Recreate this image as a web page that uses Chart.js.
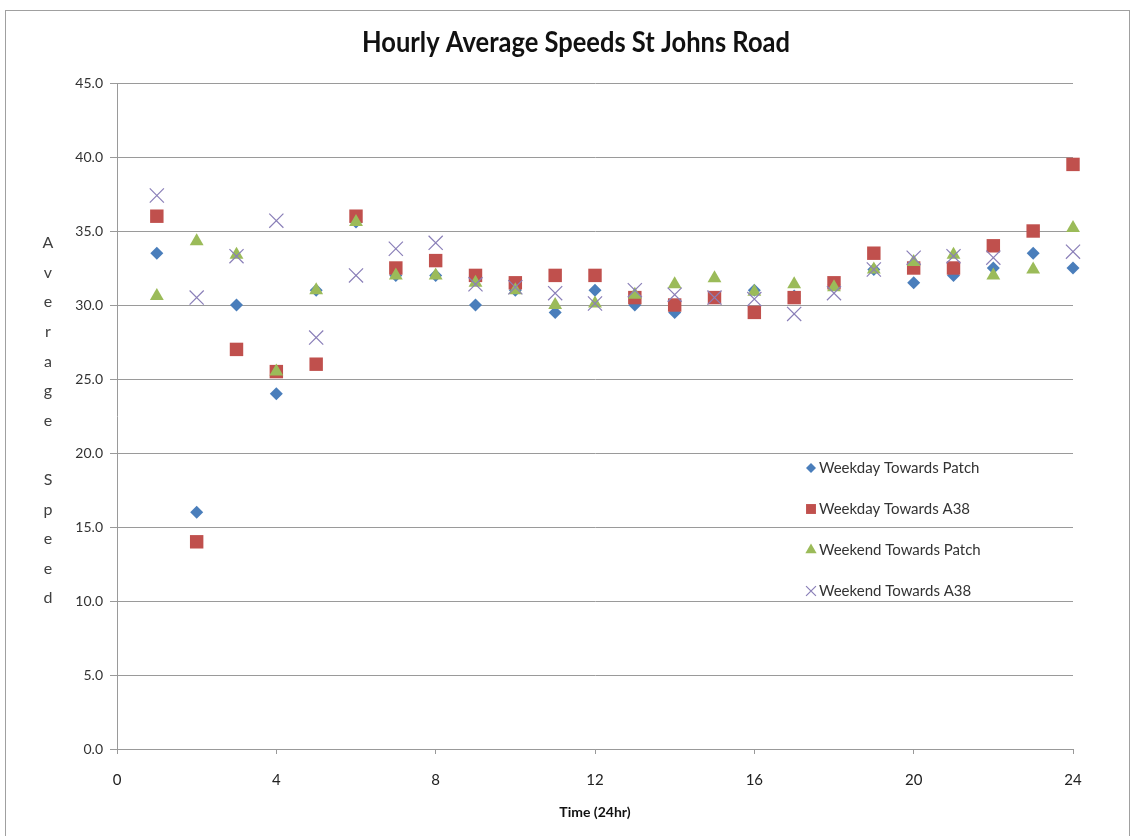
<!DOCTYPE html>
<html>
<head>
<meta charset="utf-8">
<title>Hourly Average Speeds St Johns Road</title>
<script src="https://cdn.jsdelivr.net/npm/chart.js@4/dist/chart.umd.min.js"></script>
<style>
  html, body { margin: 0; padding: 0; background: #fff; }
  #wrap { width: 1133px; height: 836px; position: relative; }
</style>
</head>
<body>
<div id="wrap"><canvas id="speedChart" width="1133" height="836"></canvas></div>
<script>
// hours 1..24
const hours = [1, 2, 3, 4, 5, 6, 7, 8, 9, 10, 11, 12, 13, 14, 15, 16, 17, 18, 19, 20, 21, 22, 23, 24];

const weekdayPatch = [33.5, 16.0, 30.0, 24.0, 31.0, 35.6, 32.0, 32.0, 30.0, 31.0, 29.5, 31.0,
                      30.0, 29.5, 30.5, 31.0, 30.6, 31.4, 32.4, 31.5, 32.0, 32.5, 33.5, 32.5];
const weekdayA38 = [36.0, 14.0, 27.0, 25.5, 26.0, 36.0, 32.5, 33.0, 32.0, 31.5, 32.0, 32.0,
                    30.5, 30.0, 30.5, 29.5, 30.5, 31.5, 33.5, 32.5, 32.5, 34.0, 35.0, 39.5];
const weekendPatch = [30.6, 34.3, 33.4, 25.5, 31.0, 35.6, 32.0, 32.0, 31.5, 31.0, 30.0, 30.1,
                      30.7, 31.4, 31.8, 30.9, 31.4, 31.2, 32.4, 32.9, 33.4, 32.0, 32.4, 35.2];
// no cross is visible at hour 23
const weekendA38 = [37.4, 30.5, 33.3, 35.7, 27.8, 32.0, 33.8, 34.2, 31.4, 31.2, 30.8, 30.1,
                    31.0, 30.7, 30.5, 30.4, 29.4, 30.8, 32.4, 33.2, 33.3, 33.2, null, 33.6];

const seriesNames = ["Weekday Towards Patch", "Weekday Towards A38", "Weekend Towards Patch", "Weekend Towards A38"];
const chartTitle = "Hourly Average Speeds St Johns Road";
const yTitle = "Average Speed";

const toPoints = vals => vals.map((v, i) => ({ x: hours[i], y: v }));

const BLUE = "#4a7ebb";
const RED = "#c0504d";
const GREEN = "#9bbb59";
const PURPLE = "#8a7fb8";
const FONT = "Lato, 'Open Sans', sans-serif";

const datasets = [
    { label: seriesNames[0], data: toPoints(weekdayPatch), pointStyle: "rectRot", pointRadius: 6.5,
      backgroundColor: BLUE, borderColor: BLUE, borderWidth: 0, order: 3, clip: false },
    { label: seriesNames[1], data: toPoints(weekdayA38), pointStyle: "rect", pointRadius: 9.5,
      backgroundColor: RED, borderColor: RED, borderWidth: 0, order: 2, clip: false },
    { label: seriesNames[2], data: toPoints(weekendPatch), pointStyle: "triangle", pointRadius: 8,
      backgroundColor: GREEN, borderColor: GREEN, borderWidth: 0, order: 1, clip: false },
    { label: seriesNames[3], data: toPoints(weekendA38), pointStyle: "crossRot", pointRadius: 10,
      backgroundColor: PURPLE, borderColor: PURPLE, borderWidth: 1.2, order: 0, clip: false }
];

// frame, title, stacked y title and the legend inside the plot
const decorations = {
    id: "decorations",
    beforeDraw(chart) {
        const ctx = chart.ctx;
        ctx.save();
        ctx.fillStyle = "#fff";
        ctx.fillRect(0, 0, chart.width, chart.height);
        ctx.strokeStyle = "#a0a0a0";
        ctx.lineWidth = 1;
        ctx.strokeRect(5.5, 10.5, 1124, 830);
        ctx.restore();
    },
    afterDraw(chart) {
        const ctx = chart.ctx;
        ctx.save();

        ctx.fillStyle = "#111";
        ctx.font = "bold 28px " + FONT;
        ctx.textAlign = "center";
        ctx.textBaseline = "middle";
        ctx.fillText(chartTitle, 576, 43, 428);

        ctx.fillStyle = "#404040";
        ctx.font = "16px " + FONT;
        yTitle.split("").forEach((ch, i) => {
            ctx.fillText(ch, 48, 243 + i * 29.6);
        });

        const sizes = [5, 7, 6.5, 7];
        ctx.textAlign = "left";
        chart.data.datasets.forEach((ds, i) => {
            const y = 468 + i * 41;
            ctx.save();
            ctx.fillStyle = ds.backgroundColor;
            ctx.strokeStyle = ds.borderColor;
            ctx.lineWidth = ds.borderWidth;
            Chart.helpers.drawPoint(ctx, {
                pointStyle: ds.pointStyle,
                radius: sizes[i],
                rotation: 0,
                borderWidth: ds.borderWidth
            }, 811, y);
            ctx.restore();
            ctx.fillStyle = "#333";
            ctx.font = "15px " + FONT;
            ctx.fillText(ds.label, 819, y);
        });
        ctx.restore();
    }
};

new Chart(document.getElementById("speedChart"), {
    type: "scatter",
    data: { datasets },
    options: {
        responsive: false,
        animation: false,
        layout: { padding: { left: 0, right: 60, top: 83, bottom: 0 } },
        plugins: {
            legend: { display: false },
            tooltip: { enabled: false },
            title: { display: false }
        },
        scales: {
            x: {
                type: "linear",
                min: 0,
                max: 24,
                afterFit(scale) { scale.height = 87; },
                ticks: {
                    stepSize: 4,
                    color: "#222",
                    padding: 17,
                    font: { family: FONT, size: 15 }
                },
                grid: { drawOnChartArea: false, color: "#999", tickLength: 5 },
                border: { color: "#999" },
                title: {
                    display: true,
                    text: "Time (24hr)",
                    color: "#111",
                    font: { family: FONT, size: 14, weight: "bold" },
                    padding: { top: 0, bottom: 15 }
                }
            },
            y: {
                min: 0,
                max: 45,
                afterFit(scale) { scale.width = 117; },
                ticks: {
                    stepSize: 5,
                    color: "#333",
                    padding: 7,
                    callback: v => v.toFixed(1),
                    font: { family: FONT, size: 14 }
                },
                grid: { color: "#9a9a9a", tickLength: 7 },
                border: { color: "#9a9a9a" }
            }
        }
    },
    plugins: [decorations]
});
</script>
</body>
</html>
